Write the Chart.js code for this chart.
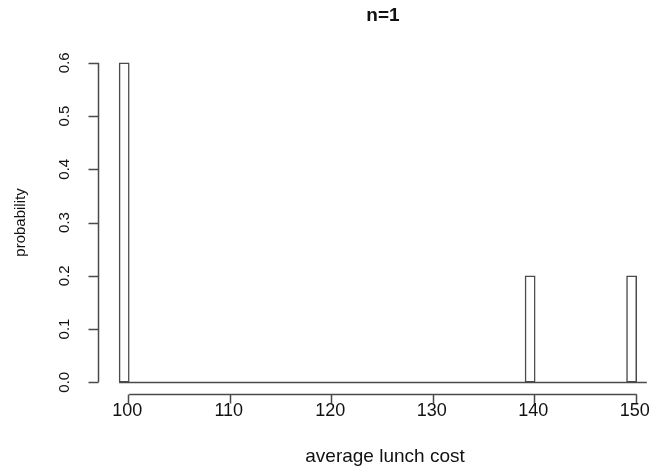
<!DOCTYPE html>
<html>
<head>
<meta charset="utf-8">
<script src="https://cdn.jsdelivr.net/npm/chart.js@4.4.1/dist/chart.umd.min.js"></script>
<style>
html, body { margin: 0; padding: 0; background: #ffffff; overflow: hidden; }
canvas { display: block; }
</style>
</head>
<body>
<canvas id="c" width="658" height="468"></canvas>
<script>
// ---- data ----
const costs = [100, 140, 150];            // right edge of each non-empty bin
const probabilities = [0.6, 0.2, 0.2];
const binWidth = 1;
const histRange = [99, 151];              // breaks span (zero bins form the baseline)
const xTicks = [100, 110, 120, 130, 140, 150];
const xTickLabels = ['100', '110', '120', '130', '140', '150'];
const yTicks = [0, 0.1, 0.2, 0.3, 0.4, 0.5, 0.6];
const yTickLabels = ['0.0', '0.1', '0.2', '0.3', '0.4', '0.5', '0.6'];
const titleText = 'n=1';
const xLabelText = 'average lunch cost';
const yLabelText = 'probability';

const LINE = '#4a4a4a';
const TEXT = '#111111';
const FONT = '"Liberation Sans", Arial, sans-serif';

const rAxes = {
  id: 'rAxes',
  beforeDatasetsDraw(chart) {
    const {ctx, scales: {x, y}} = chart;
    ctx.save();
    ctx.strokeStyle = LINE;
    ctx.lineWidth = 1.5;
    const yb = Math.round(y.getPixelForValue(0)) + 0.5;
    ctx.beginPath();
    ctx.moveTo(x.getPixelForValue(histRange[0]), yb);
    ctx.lineTo(x.getPixelForValue(histRange[1]), yb);
    ctx.stroke();
    ctx.restore();
  },
  afterDraw(chart) {
    const {ctx, chartArea, scales: {x, y}} = chart;
    ctx.save();
    ctx.strokeStyle = LINE;
    ctx.lineWidth = 1.5;
    // x axis
    const ax = Math.round(chartArea.bottom) - 0.5;
    ctx.beginPath();
    ctx.moveTo(x.getPixelForValue(xTicks[0]), ax);
    ctx.lineTo(x.getPixelForValue(xTicks[xTicks.length - 1]), ax);
    xTicks.forEach(v => {
      const px = Math.round(x.getPixelForValue(v)) - 0.5;
      ctx.moveTo(px, ax);
      ctx.lineTo(px, ax + 9);
    });
    ctx.stroke();
    // y axis
    const ay = Math.round(chartArea.left) + 0.5;
    ctx.beginPath();
    ctx.moveTo(ay, y.getPixelForValue(yTicks[0]));
    ctx.lineTo(ay, y.getPixelForValue(yTicks[yTicks.length - 1]));
    yTicks.forEach(v => {
      const py = Math.round(y.getPixelForValue(v)) + 0.5;
      ctx.moveTo(ay, py);
      ctx.lineTo(ay - 10, py);
    });
    ctx.stroke();

    ctx.fillStyle = TEXT;
    ctx.textAlign = 'center';
    ctx.textBaseline = 'middle';
    // x tick labels
    ctx.font = '18px ' + FONT;
    xTicks.forEach((v, i) => {
      ctx.fillText(xTickLabels[i], x.getPixelForValue(v) - 2, ax + 17);
    });
    // y tick labels (rotated)
    ctx.font = '15px ' + FONT;
    yTicks.forEach((v, i) => {
      ctx.save();
      ctx.translate(65, y.getPixelForValue(v));
      ctx.rotate(-Math.PI / 2);
      ctx.fillText(yTickLabels[i], 0, 0);
      ctx.restore();
    });
    // x label
    ctx.font = '19px ' + FONT;
    ctx.fillText(xLabelText, 385, 457);
    // y label
    ctx.font = '15px ' + FONT;
    ctx.save();
    ctx.translate(21, (chartArea.top + chartArea.bottom) / 2);
    ctx.rotate(-Math.PI / 2);
    ctx.fillText(yLabelText, 0, 0);
    ctx.restore();
    // title
    ctx.font = 'bold 19px ' + FONT;
    ctx.fillText(titleText, 383, 16);
    ctx.restore();
  }
};

const chart = new Chart(document.getElementById('c'), {
  type: 'bar',
  data: {
    datasets: [{
      data: costs.map((c, i) => ({x: c - binWidth / 2, y: probabilities[i]})),
      backgroundColor: '#ffffff',
      borderColor: LINE,
      borderWidth: 1.5,
      borderSkipped: false,
      barPercentage: 1,
      categoryPercentage: 1
    }]
  },
  options: {
    responsive: false,
    animation: false,
    layout: { padding: { left: 98, right: 0, top: 50, bottom: 73 } },
    plugins: { legend: { display: false }, tooltip: { enabled: false }, title: { display: false } },
    scales: {
      x: { type: 'linear', min: 96.92, max: 152.1, offset: false, display: false },
      y: { type: 'linear', min: -0.024, max: 0.624, display: false }
    }
  },
  plugins: [rAxes]
});

// one histogram bin wide, measured through the x scale
const xs = chart.scales.x;
chart.data.datasets[0].barThickness = Math.abs(xs.getPixelForValue(histRange[0] + binWidth) - xs.getPixelForValue(histRange[0]));
chart.update('none');
</script>
</body>
</html>
